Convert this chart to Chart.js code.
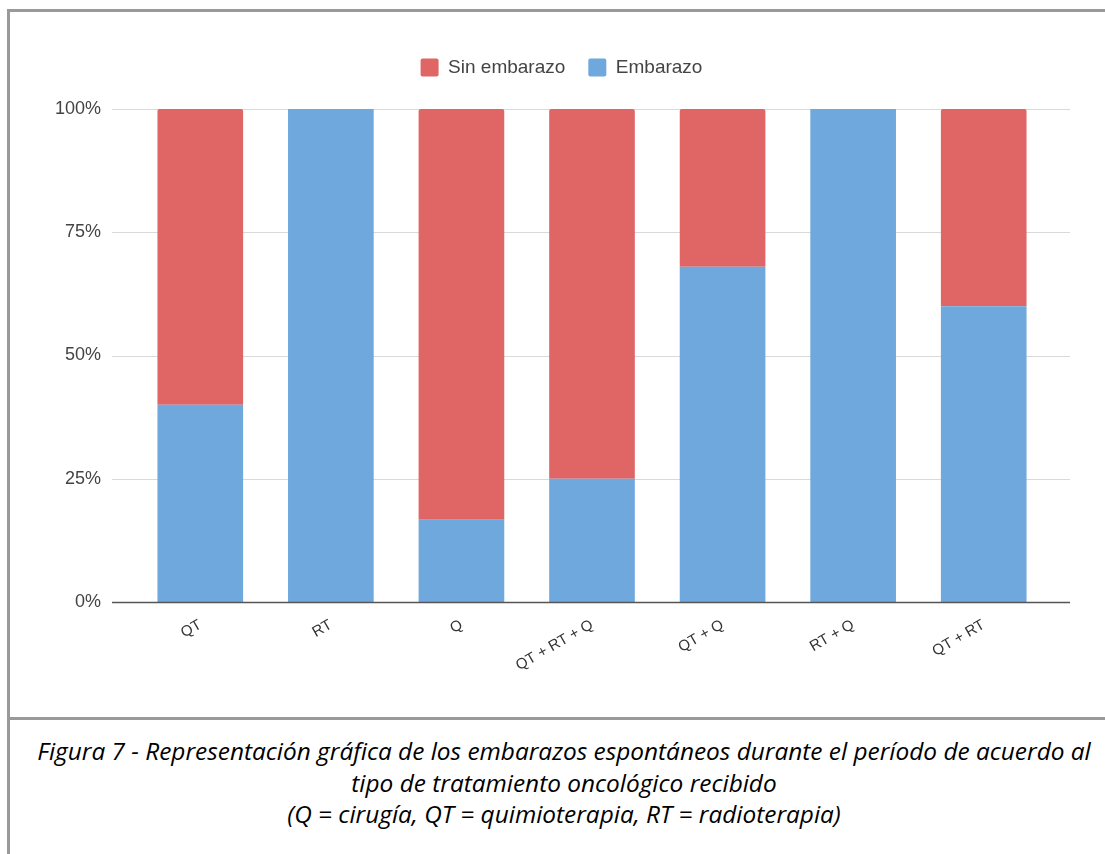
<!DOCTYPE html>
<html lang="es">
<head>
<meta charset="utf-8">
<title>Embarazos espontáneos por tipo de tratamiento</title>
<script src="https://cdn.jsdelivr.net/npm/chart.js@4.4.1/dist/chart.umd.min.js"></script>
<style>
  html, body { margin: 0; padding: 0; background: #fff; overflow: hidden; }
  body { width: 1105px; height: 854px; position: relative; }
  .frame {
    position: absolute; left: 7px; top: 9px; width: 1120px; height: 860px;
    border-top: 3px solid #999; border-left: 3px solid #999;
  }
  .chart-box { position: absolute; left: 10px; top: 12px; width: 1095px; height: 706px; }
  .divider { position: absolute; left: 10px; top: 717px; width: 1100px; height: 3px; background: #999; }
  .caption {
    position: absolute; left: 10px; top: 735px; width: 1108px;
    text-align: center; font-family: "Open Sans", sans-serif; font-style: italic;
    font-size: 24.4px; line-height: 31.5px; color: #000;
  }
</style>
</head>
<body>
<div class="frame"></div>
<div class="chart-box"><canvas id="chart" width="1095" height="706"></canvas></div>
<div class="divider"></div>
<div class="caption">
  Figura 7 - Representación gráfica de los embarazos espontáneos durante el período de acuerdo al<br>
  tipo de tratamiento oncológico recibido<br>
  (Q = cirugía, QT = quimioterapia, RT = radioterapia)
</div>

<script>
// Tratamientos y porcentajes (%)
const tratamientos = ['QT', 'RT', 'Q', 'QT + RT + Q', 'QT + Q', 'RT + Q', 'QT + RT'];
const embarazo = [40, 100, 16.7, 25, 68, 100, 60];
const sinEmbarazo = [60, 0, 83.3, 75, 32, 0, 40];
const ticksY = [0, 25, 50, 75, 100];

const fuente = '"Liberation Sans", Arial, sans-serif';

// Líneas horizontales que sobresalen un poco del área de barras
const lineasFondo = {
  id: 'lineasFondo',
  beforeDatasetsDraw(chart) {
    const { ctx } = chart;
    const y = chart.scales.y;
    ctx.save();
    ctx.strokeStyle = '#d9d9d9';
    ctx.lineWidth = 1;
    ticksY.forEach(v => {
      if (v === 0) return;
      const py = Math.round(y.getPixelForValue(v)) + 0.5;
      ctx.beginPath();
      ctx.moveTo(102, py);
      ctx.lineTo(1060, py);
      ctx.stroke();
    });
    ctx.restore();
  },
  afterDatasetsDraw(chart) {
    const { ctx } = chart;
    const py = chart.scales.y.getPixelForValue(0) + 0.5;
    ctx.save();
    ctx.strokeStyle = '#555';
    ctx.lineWidth = 1.6;
    ctx.beginPath();
    ctx.moveTo(102, py);
    ctx.lineTo(1060, py);
    ctx.stroke();
    ctx.restore();
  }
};

// Más aire entre la leyenda y las barras, y leyenda centrada en todo el ancho
const espacioLeyenda = {
  id: 'espacioLeyenda',
  beforeInit(chart) {
    const fitOriginal = chart.legend.fit;
    chart.legend.fit = function () {
      fitOriginal.bind(chart.legend)();
      this.height += 22;
    };
  },
  afterLayout(chart) {
    chart.legend.left += 32;
    chart.legend.right += 32;
  }
};

new Chart(document.getElementById('chart'), {
  type: 'bar',
  data: {
    labels: tratamientos,
    datasets: [
      {
        label: 'Embarazo',
        data: embarazo,
        backgroundColor: '#6fa8dc'
      },
      {
        label: 'Sin embarazo',
        data: sinEmbarazo,
        backgroundColor: '#e06666',
        borderRadius: { topLeft: 2, topRight: 2 },
        borderSkipped: false
      }
    ]
  },
  options: {
    responsive: false,
    animation: false,
    layout: { padding: { top: 23, right: 56, bottom: 0, left: 0 } },
    datasets: { bar: { categoryPercentage: 1, barPercentage: 0.656 } },
    plugins: {
      legend: {
        position: 'top',
        reverse: true,
        labels: {
          boxWidth: 18, boxHeight: 18, padding: 23,
          color: '#444',
          font: { family: fuente, size: 19 },
          generateLabels(chart) {
            return chart.data.datasets.map((ds, i) => ({
              text: ds.label, fillStyle: ds.backgroundColor, strokeStyle: ds.backgroundColor,
              lineWidth: 0, datasetIndex: i, borderRadius: 2, fontColor: '#444'
            }));
          }
        }
      },
      tooltip: { enabled: false }
    },
    scales: {
      x: {
        stacked: true,
        grid: { display: false },
        border: { display: false },
        ticks: {
          color: '#333', font: { family: fuente, size: 15 },
          minRotation: 30, maxRotation: 30, padding: 6
        },
        afterFit(scale) { scale.height = 116; }
      },
      y: {
        stacked: true,
        min: 0, max: 100,
        grid: { display: false, drawTicks: false },
        border: { display: false },
        afterBuildTicks(scale) { scale.ticks = ticksY.map(v => ({ value: v })); },
        ticks: {
          color: '#444', font: { family: fuente, size: 18 },
          padding: 34,
          callback: v => v + '%'
        },
        afterFit(scale) { scale.width = 125; }
      }
    }
  },
  plugins: [lineasFondo, espacioLeyenda]
});
</script>
</body>
</html>
